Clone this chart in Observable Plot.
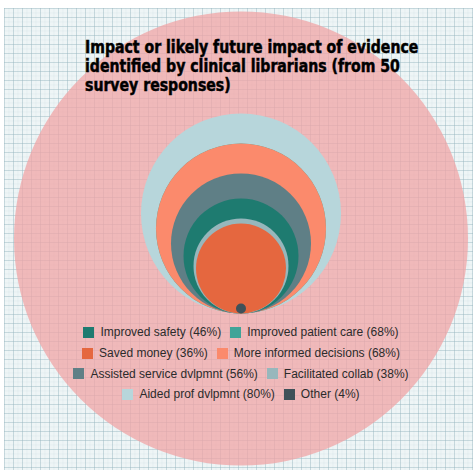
<!DOCTYPE html>
<html><head><meta charset="utf-8">
<script src="https://cdn.jsdelivr.net/npm/d3@7"></script>
<script src="https://cdn.jsdelivr.net/npm/@observablehq/plot@0.6"></script>
<style>
body{margin:0;background:#fff;}
#wrap{position:relative;width:473px;height:470px;background:#fff;overflow:hidden;}
#grid{position:absolute;left:4px;top:8px;right:0;bottom:0;background-color:#eef5f6;
background-image:
linear-gradient(to right, rgba(150,182,192,0.40) 1px, transparent 1px),
linear-gradient(to bottom, rgba(150,182,192,0.40) 1px, transparent 1px),
linear-gradient(to right, rgba(170,198,206,0.15) 1px, transparent 1px),
linear-gradient(to bottom, rgba(170,198,206,0.15) 1px, transparent 1px);
background-size:9px 9px,9px 9px,4.5px 4.5px,4.5px 4.5px;}
#chart{position:absolute;left:0;top:0;}
#title{position:absolute;left:85px;top:37px;font-family:"DejaVu Sans Condensed",sans-serif;font-weight:bold;font-size:18px;line-height:19px;color:#000;transform:scaleX(0.87);transform-origin:left top;white-space:nowrap;-webkit-text-stroke:0.5px #000;}
#legend{position:absolute;left:0;width:482px;top:322px;font-family:"Liberation Sans",Arial,sans-serif;font-size:12px;color:#2b2b2b;}
.row{display:flex;justify-content:center;height:20.7px;align-items:center;}
.item{display:flex;align-items:center;margin:0 4.5px;white-space:nowrap;}
.sw{width:11px;height:11px;margin-right:6px;}
</style></head>
<body>
<div id="wrap"><div id="grid"></div><div id="chart"></div>
<div id="title">Impact or likely future impact of evidence<br>identified by clinical librarians (from 50<br>survey responses)</div>
<div id="legend"></div></div>
<script>
const categories = ["Improved safety","Improved patient care","Saved money","More informed decisions","Assisted service dvlpmnt","Facilitated collab","Aided prof dvlpmnt","Other"];
const values = [46,68,36,68,56,38,80,4];
const colors = ["#1e7b70","#40a498","#e5673f","#fb8a6c","#5f7f86","#97b7bc","#b7d6db","#3f5159"];

const data = categories.map((c,i)=>({category:c,value:values[i],color:colors[i],i}));
const drawOrder = d3.sort(data, d=>-d.value);

const chart = Plot.plot({
  width:473, height:470, margin:0,
  style:{background:"transparent"},
  x:{domain:[-1,1], range:[140.5,340.5], axis:null},
  y:{domain:[0,80], range:[313,213], axis:null},
  r:{type:"linear", domain:[0,80], range:[0,100]},
  marks:[
    Plot.dot([0], {x:0, y:60, r:227, fill:"#f0a4a6", fillOpacity:0.75}),
    Plot.dot(drawOrder, {x:()=>0, y:"value", r:"value", fill:"color", sort:null})
  ]
});
document.getElementById("chart").appendChild(chart);

const legend = document.getElementById("legend");
for (let k=0;k<data.length;k+=2){
  const row=document.createElement("div");row.className="row";
  for (const d of data.slice(k,k+2)){
    const it=document.createElement("div");it.className="item";
    const sw=document.createElement("div");sw.className="sw";sw.style.background=d.color;
    const tx=document.createElement("span");tx.textContent=`${d.category} (${d.value}%)`;
    it.appendChild(sw);it.appendChild(tx);row.appendChild(it);
  }
  legend.appendChild(row);
}
</script>
</body></html>
